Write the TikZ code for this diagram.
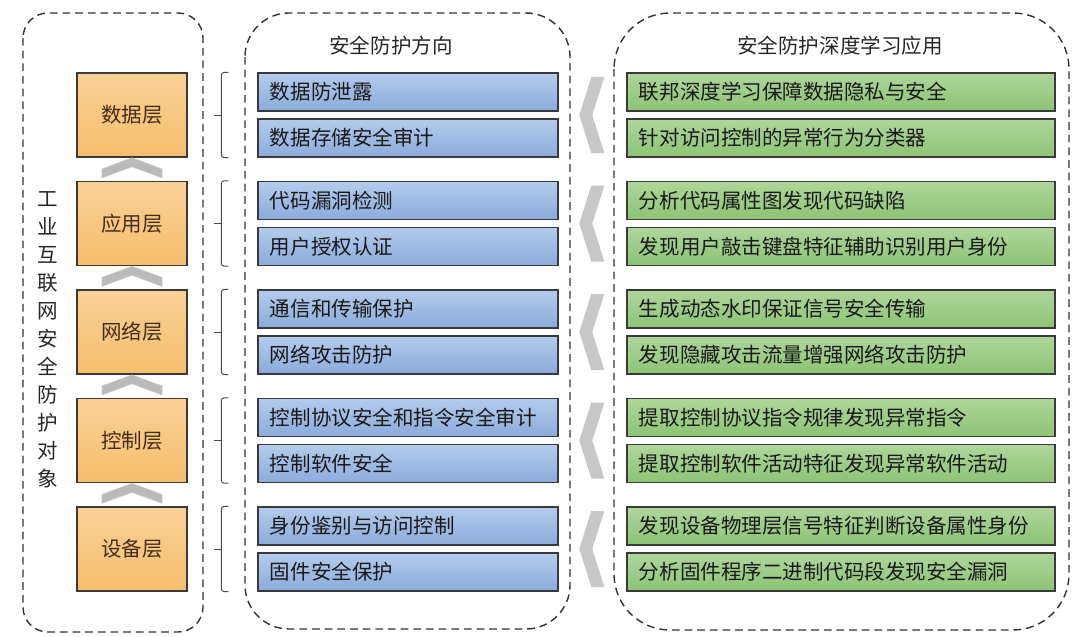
\documentclass[tikz,border=0pt]{standalone}
\usepackage{fontspec}
\setmainfont{Noto Sans CJK SC}
\usepackage{xcolor}
\usepackage{tikz}
\usetikzlibrary{calc}

\definecolor{layertop}{HTML}{FAD196}
\definecolor{layerbot}{HTML}{F6BE6C}
\definecolor{dirtop}{HTML}{B4CBEC}
\definecolor{dirbot}{HTML}{8BABDB}
\definecolor{apptop}{HTML}{AFD69B}
\definecolor{appbot}{HTML}{8CC375}
\definecolor{edge}{HTML}{3A3A3A}

\begin{document}
\begin{tikzpicture}[
    x=0.025cm, y=-0.025cm,
    font=\fontsize{14.6pt}{17pt}\selectfont,
    frame/.style={draw=black!80, line width=1pt, dash pattern=on 5.5pt off 3.5pt},
    layer/.style={rectangle, draw=edge, line width=0.9pt, top color=layertop, bottom color=layerbot, text=brown!35!black, minimum width=2.75cm, minimum height=2.1cm},
    direction/.style={rectangle, draw=edge, line width=0.9pt, top color=dirtop, bottom color=dirbot, text=black!90, text width=6.9cm, inner xsep=0.3cm, minimum height=0.95cm, align=left},
    application/.style={rectangle, draw=edge, line width=0.9pt, top color=apptop, bottom color=appbot, text=black!90, text width=10.1cm, inner xsep=0.3cm, minimum height=0.95cm, align=left},
    heading/.style={text=black!85},
    upmark/.style={fill=black!27, draw=black!20, line width=0.4pt},
    leftmark/.style={fill=black!22},
    bracket/.style={draw=black!70, line width=0.7pt, rounded corners=2pt}
]
\useasboundingbox (0,0) rectangle (1080,637);

% Outer dashed frames
\draw[frame, rounded corners=0.625cm] (23,13) rectangle (203,632);
\draw[frame, rounded corners=1.1cm] (245,13) rectangle (570,629);
\draw[frame, rounded corners=1.4cm] (614,13) rectangle (1069,630);

% Titles
\node[heading] (dirtitle) at (391,46) {安全防护方向};
\node[heading] (apptitle) at (840,46) {安全防护深度学习应用};
\node[heading, align=center, font=\fontsize{14.6pt}{19.9pt}\selectfont] (object) at (48,340)
    {工\\业\\互\\联\\网\\安\\全\\防\\护\\对\\象};

% Layers
\node[layer] (data) at (132,115) {数据层};
\node[layer] (app) at (132,223.5) {应用层};
\node[layer] (net) at (132,332) {网络层};
\node[layer] (ctrl) at (132,440.5) {控制层};
\node[layer] (dev) at (132,549) {设备层};

% Protection directions
\node[direction] (d1) at (408,92) {数据防泄露};
\node[direction] (d2) at (408,138) {数据存储安全审计};
\node[direction] (d3) at (408,200.5) {代码漏洞检测};
\node[direction] (d4) at (408,246.5) {用户授权认证};
\node[direction] (d5) at (408,309) {通信和传输保护};
\node[direction] (d6) at (408,355) {网络攻击防护};
\node[direction] (d7) at (408,417.5) {控制协议安全和指令安全审计};
\node[direction] (d8) at (408,463.5) {控制软件安全};
\node[direction] (d9) at (408,526) {身份鉴别与访问控制};
\node[direction] (d10) at (408,572) {固件安全保护};

% Deep learning applications
\node[application] (a1) at (841,92) {联邦深度学习保障数据隐私与安全};
\node[application] (a2) at (841,138) {针对访问控制的异常行为分类器};
\node[application] (a3) at (841,200.5) {分析代码属性图发现代码缺陷};
\node[application] (a4) at (841,246.5) {发现用户敲击键盘特征辅助识别用户身份};
\node[application] (a5) at (841,309) {生成动态水印保证信号安全传输};
\node[application] (a6) at (841,355) {发现隐藏攻击流量增强网络攻击防护};
\node[application] (a7) at (841,417.5) {提取控制协议指令规律发现异常指令};
\node[application] (a8) at (841,463.5) {提取控制软件活动特征发现异常软件活动};
\node[application] (a9) at (841,526) {发现设备物理层信号特征判断设备属性身份};
\node[application] (a10) at (841,572) {分析固件程序二进制代码段发现安全漏洞};

% Upward chevrons between layers
\foreach \n in {app,net,ctrl,dev}
  \filldraw[upmark] ([shift={(-30,-3)}]\n.north) -- ++(0,-9) -- ++(30,-11) -- ++(30,11) -- ++(0,9) -- ++(-30,-11) -- cycle;

% Brackets
\foreach \i/\j in {d1/d2,d3/d4,d5/d6,d7/d8,d9/d10} {
  \draw[bracket] ($(\i.north west)+(-29,0)$) -- ++(-7,0) -- ($(\j.south west)+(-36,0)$) -- ++(7,0);
  \draw[bracket] ($(\i.north west)!0.5!(\j.south west)+(-36,0)$) -- ++(-7,0);
}

% Chevrons pointing to directions
\foreach \i/\j in {a1/a2,a3/a4,a5/a6,a7/a8,a9/a10}
  \fill[leftmark] ($(\i.south west)!0.5!(\j.north west)$) ++(-47,0) -- ++(12,-38) -- ++(13,0) -- ++(-12,38) -- ++(12,38) -- ++(-13,0) -- cycle;

\end{tikzpicture}
\end{document}
